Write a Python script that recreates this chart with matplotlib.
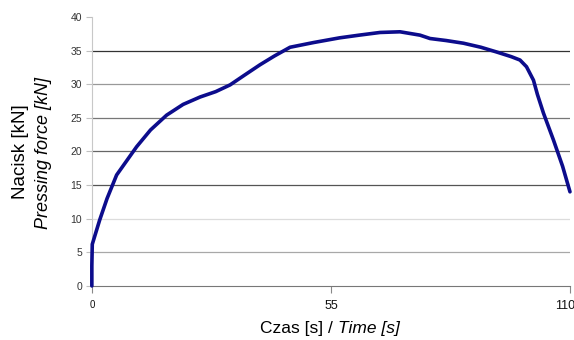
import matplotlib
matplotlib.use("Agg")
import matplotlib.pyplot as plt
from matplotlib.transforms import offset_copy

time_s = [0, 0, 0.1, 1.8, 3.5, 5.7, 8.0, 10.3, 13.5, 17.2, 21.0, 24.9, 28.5, 31.8, 35.0, 38.7,
          42.0, 45.6, 51.0, 57.0, 61.5, 66.3, 70.9, 75.5, 77.8, 81.5, 85.5, 89.5, 93.1,
          96.5, 98.5, 100.0, 101.6, 102.5, 103.9, 106.2, 108.3, 110.0]
force_kn = [0, 3.0, 6.2, 9.8, 13.0, 16.5, 18.6, 20.7, 23.2, 25.4, 27.0, 28.1, 28.9, 29.9, 31.3, 32.9,
            34.2, 35.5, 36.2, 36.9, 37.3, 37.7, 37.8, 37.3, 36.8, 36.5, 36.1, 35.5, 34.8,
            34.1, 33.6, 32.6, 30.6, 28.5, 25.7, 21.7, 17.8, 14.0]
y_ticks = [0, 5, 10, 15, 20, 25, 30, 35, 40]
x_ticks = [0, 55, 110]

plt.rcParams['font.family'] = ['Liberation Sans', 'DejaVu Sans']

fig = plt.figure(figsize=(5.74, 3.4), dpi=100)
ax = fig.add_axes([0.160, 0.159, 0.833, 0.791])

grid_colors = {5: '#a8a8a8', 10: '#dcdcdc', 15: '#555555', 20: '#666666',
               25: '#777777', 30: '#999999', 35: '#333333'}
for v, c in grid_colors.items():
    ax.axhline(v, color=c, lw=0.9, zorder=1)

ax.plot(time_s, force_kn, color='#0c0c8c', lw=2.6, solid_capstyle='round',
        solid_joinstyle='round', zorder=3, clip_on=False)

ax.set_xlim(0, 110)
ax.set_ylim(0, 40)
ax.set_yticks(y_ticks)
ax.set_xticks(x_ticks)
ax.set_xticklabels([str(t) for t in x_ticks])
ax.set_yticklabels([str(t) for t in y_ticks])
for spine in ['top', 'right']:
    ax.spines[spine].set_visible(False)
ax.spines['left'].set_color('#c8c8c8')
ax.spines['bottom'].set_color('#777777')
ax.tick_params(axis='y', labelsize=7.5, colors='#c0c0c0', labelcolor='#333333',
               length=4, width=0.8, pad=3)
ax.tick_params(axis='x', labelsize=9, colors='#888888', labelcolor='#111111',
               length=5, width=0.8, pad=5)
lbls = ax.get_xticklabels()
lbls[0].set_fontsize(7)
lbls[-1].set_horizontalalignment('right')
lbls[-1].set_transform(offset_copy(lbls[-1].get_transform(), fig=fig, x=4, units='points'))

# x label: regular + italic parts
fig.canvas.draw()
r = fig.canvas.get_renderer()
t1 = fig.text(0, 0, "Czas [s] / ", fontsize=12.5)
t2 = fig.text(0, 0, "Time [s]", fontsize=12.5, style='italic')
w1 = t1.get_window_extent(r).width
w2 = t2.get_window_extent(r).width
W = fig.bbox.width
cx = 330
start = cx - (w1 + w2) / 2
yb = 1 - 333 / 340
t1.set_position((start / W, yb))
t2.set_position(((start + w1) / W, yb))

fig.text(0.036, 0.555, "Nacisk [kN]", rotation=90, fontsize=13.5,
         ha='center', va='center')
fig.text(0.076, 0.55, "Pressing force [kN]", rotation=90, fontsize=13,
         style='italic', ha='center', va='center')

fig.savefig("out.png", dpi=100)
